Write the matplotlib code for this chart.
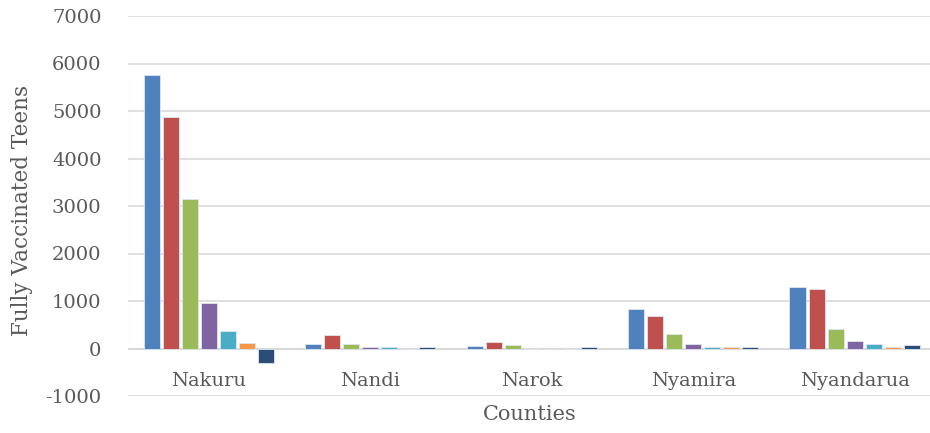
import numpy as np
import matplotlib
matplotlib.use('Agg')
import matplotlib.pyplot as plt

counties = ['Nakuru', 'Nandi', 'Narok', 'Nyamira', 'Nyandarua']

# one list per series, values in county order
series_1 = [5750, 90, 50, 840, 1300]
series_2 = [4870, 280, 130, 690, 1260]
series_3 = [3140, 90, 70, 310, 410]
series_4 = [950, 40, 0, 100, 150]
series_5 = [360, 40, 0, 25, 85]
series_6 = [110, 0, 0, 25, 40]
series_7 = [-300, 40, 25, 25, 75]

colors = ['#4F81BD', '#C0504D', '#9BBB59', '#8064A2', '#4BACC6', '#F79646', '#2C4D75']

plt.rcParams['font.family'] = ['DejaVu Serif']
plt.rcParams['axes.unicode_minus'] = False

fig = plt.figure(figsize=(9.3, 4.33), dpi=100)
ax = fig.add_axes([128 / 930, 1 - 396 / 433, 802 / 930, 380 / 433])

x = np.arange(len(counties))
all_series = [series_1, series_2, series_3, series_4, series_5, series_6, series_7]
pitch = 0.118
width = 0.1
for i, (vals, c) in enumerate(zip(all_series, colors)):
    offset = (i - 3) * pitch
    ax.bar(x + offset, vals, width, color=c, edgecolor='#dfe6f0', linewidth=0.6, zorder=3)

ax.set_xlim(-0.5, 4.466)
ax.set_ylim(-1000, 7000)
ax.set_yticks(range(-1000, 7001, 1000))
ax.tick_params(axis='y', length=0, pad=19, labelsize=14, labelcolor='#595959')
ax.set_xticks([])
ax.yaxis.grid(True, color='#d9d9d9', linewidth=1.2, zorder=0)
ax.axhline(0, color='#d9d9d9', linewidth=1.5, zorder=2)
for s in ax.spines.values():
    s.set_visible(False)

for xi, name in zip(x, counties):
    ax.text(xi, -680, name, ha='center', va='center', fontsize=14, color='#595959')

fig.text(530 / 930, 1 - 415 / 433, 'Counties', ha='center', va='center', fontsize=15, color='#595959')
fig.text(22 / 930, 1 - 210 / 433, 'Fully Vaccinated Teens', ha='center', va='center',
         rotation=90, fontsize=15.5, color='#595959')

fig.savefig('out.png', dpi=100)
